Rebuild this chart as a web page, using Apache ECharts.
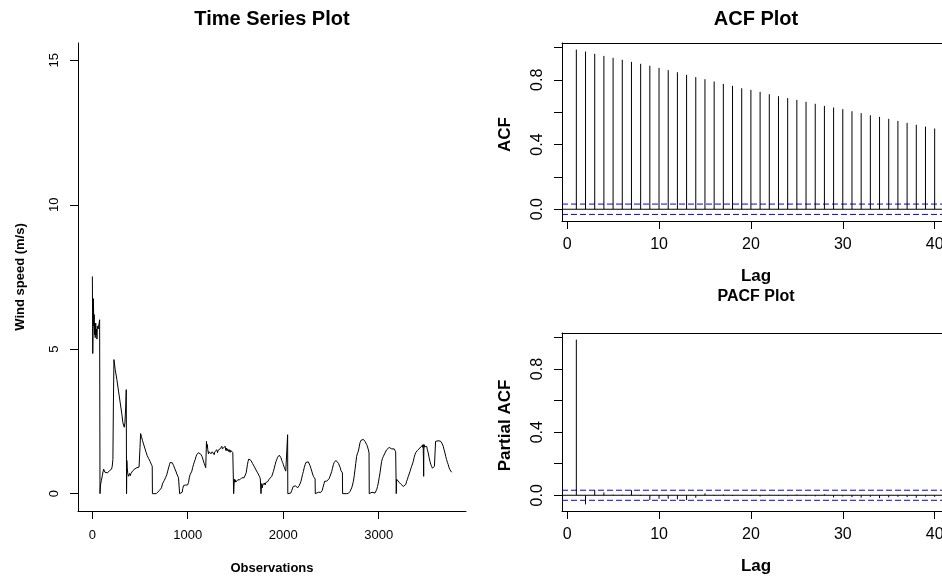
<!DOCTYPE html>
<html><head><meta charset="utf-8">
<script src="https://cdn.jsdelivr.net/npm/echarts@6/dist/echarts.min.js"></script>
<style>html,body{margin:0;padding:0;background:#fff}#c{width:942px;height:579px}</style>
</head><body><div id="c"></div>
<script>
// ---- Time series (observation index, wind speed m/s) ----
const obs = [1,5,8,12,16,20,24,28,31,36,40,45,49,53,58,62,66,72,77,80,81,
86,95,105,112,119,126,133,140,147,154,160,167,174,181,188,195,202,209,216,221,227,240,258,275,293,310,321,335,342,350,356,359,
360,362,366,372,378,384,391,398,405,412,419,426,433,440,447,454,461,468,475,482,490,495,500,506,515,525,537,550,565,575,590,605,618,628,630,
650,670,690,700,710,718,725,732,739,746,753,760,767,774,781,790,799,808,816,823,830,838,845,851,858,865,872,879,886,893,903,912,915,
930,942,948,956,963,970,977,984,991,998,1008,1016,1025,1035,1043,1051,1060,1069,1078,1086,1095,1103,1112,1120,1130,1141,1150,1158,1165,1172,1180,1188,1192,1196,
1200,1205,1210,1217,1224,1230,1236,1243,1250,1256,1262,1270,1277,1283,1290,1297,1305,1312,1318,1325,1332,1339,1345,1351,1357,1363,1370,1376,1383,1392,1398,1405,1412,1418,1425,1432,1438,1444,1450,1458,1465,1472,1479,1481,
1482,1485,1489,1493,1497,1503,1510,1517,1524,1531,1538,1545,1552,1559,1566,1573,1580,1590,1598,1606,1612,1618,1625,1632,1640,1647,1655,1662,1670,1678,1688,1698,1706,1715,1723,1732,1741,1751,1760,1765,1767,
1768,1772,1776,1780,1786,1792,1797,1803,1810,1816,1822,1830,1838,1845,1852,1858,1863,1870,1880,1888,1897,1906,1915,1923,1932,1941,1950,1959,1967,1975,1985,1994,2002,2010,2018,2027,2038,2044,2046,2048,
2065,2079,2088,2096,2105,2114,2122,2130,2142,2150,2159,2168,2177,2185,2194,2202,2211,2220,2229,2238,2246,2255,2263,2272,2281,2290,2299,2308,2316,2325,2334,2336,
2337,2345,2355,2368,2380,2392,2403,2410,2415,2421,2428,2434,2440,2447,2455,2463,2473,2481,2490,2499,2508,2516,2525,2534,2543,2552,2561,2570,2579,2588,2597,2605,2612,2620,2622,
2640,2660,2682,2692,2700,2708,2717,2726,2735,2744,2752,2760,2769,2778,2787,2796,2804,2813,2822,2830,2839,2848,2857,2865,2874,2883,2892,2899,2901,
2915,2930,2945,2961,2970,2979,2988,2996,3005,3014,3022,3031,3040,3049,3058,3066,3075,3083,3092,3101,3110,3118,3127,3136,3144,3153,3162,3171,3178,3182,3184,
3185,3188,3192,3198,3205,3212,3223,3232,3240,3249,3258,3267,3275,3284,3293,3301,3310,3319,3328,3336,3345,3354,3362,3371,3380,3388,3397,3406,3415,3424,3432,3441,3450,3458,3462,3466,3469,3471,3473,3476,3480,3486,3492,3502,3510,3519,3528,3537,3545,3554,3563,3572,3578,3584,3590,3596,3605,3614,3622,3630,3638,3647,3655,3659,3667,3676,3685,3694,3702,3711,3720,3729,3737,3746,3755,3764];
const speed = [7.52,4.85,5.6,6.75,5.8,6.2,5.5,5.9,5.4,5.9,5.5,5.7,5.35,5.8,5.85,5.7,5.8,5.9,6.02,6.0,0,
0.3,0.45,0.62,0.75,0.85,0.8,0.74,0.78,0.76,0.76,0.72,0.78,0.73,0.8,0.75,0.78,0.85,0.95,1.18,3.0,4.64,4.3,3.94,3.55,3.14,2.75,2.45,2.3,2.45,3.0,3.6,0,
0,1.15,0.9,0.7,0.6,0.62,0.7,0.62,0.7,0.75,0.68,0.8,0.82,0.78,0.86,0.88,0.85,0.9,0.92,0.95,0.92,0.95,1.6,2.08,1.98,1.85,1.72,1.58,1.42,1.32,1.22,1.12,1.02,0.95,0,
0,0,0.02,0.1,0.12,0.14,0.2,0.3,0.37,0.4,0.45,0.48,0.55,0.6,0.66,0.78,0.89,1.0,1.08,1.12,1.12,1.07,1.02,0.98,0.92,0.86,0.8,0.75,0.68,0.62,0.55,0.5,0,
0,0.05,0.18,0.28,0.3,0.26,0.3,0.28,0.24,0.3,0.38,0.55,0.66,0.72,0.78,0.9,1.0,1.1,1.18,1.28,1.35,1.4,1.42,1.41,1.38,1.35,1.28,1.2,1.15,1.05,0.98,0.9,1.3,1.81,
1.6,1.7,1.52,1.38,1.45,1.4,1.5,1.38,1.32,1.45,1.42,1.48,1.35,1.45,1.4,1.5,1.52,1.42,1.5,1.45,1.52,1.55,1.6,1.5,1.64,1.55,1.5,1.6,1.55,1.64,1.5,1.58,1.48,1.55,1.5,1.45,1.52,1.43,1.5,1.47,1.45,1.42,1.41,0,
0,0.3,0.5,0.4,0.48,0.4,0.45,0.43,0.48,0.45,0.5,0.48,0.47,0.52,0.55,0.58,0.6,0.55,0.52,0.6,0.72,0.85,1.0,1.12,1.2,1.24,1.2,1.15,1.1,1.05,1.0,0.93,0.88,0.82,0.77,0.72,0.67,0.6,0.52,0.48,0,
0,0.25,0.35,0.2,0.3,0.28,0.35,0.37,0.3,0.38,0.35,0.4,0.42,0.43,0.5,0.52,0.54,0.56,0.6,0.68,0.77,0.88,1.0,1.1,1.18,1.26,1.32,1.33,1.32,1.25,1.15,1.08,1.0,0.92,0.85,0.78,0.75,0.74,2.04,0,
0,0.02,0.1,0.16,0.25,0.31,0.28,0.27,0.25,0.2,0.2,0.28,0.33,0.42,0.54,0.66,0.77,0.9,1.0,1.08,1.14,1.13,1.1,1.04,0.97,0.88,0.78,0.68,0.6,0.55,0.51,0,
0,0.06,0.05,0.05,0.05,0.04,0.05,0.12,0.2,0.25,0.35,0.43,0.42,0.4,0.43,0.44,0.46,0.52,0.6,0.68,0.77,0.88,1.0,1.08,1.14,1.15,1.13,1.1,1.05,1.0,0.9,0.8,0.76,0.72,0,
0,0,0.01,0.05,0.08,0.13,0.2,0.3,0.43,0.62,0.83,1.05,1.29,1.4,1.47,1.62,1.76,1.84,1.89,1.9,1.88,1.85,1.81,1.76,1.7,1.62,1.52,1.41,0,
0.04,0.05,0.03,0.02,0.07,0.14,0.25,0.37,0.55,0.72,0.92,1.12,1.22,1.29,1.35,1.41,1.47,1.52,1.55,1.58,1.6,1.6,1.57,1.55,1.58,1.6,1.55,1.5,1.45,1.41,0,
0,0.5,0.48,0.45,0.48,0.4,0.37,0.33,0.31,0.28,0.25,0.24,0.23,0.32,0.43,0.5,0.6,0.68,0.77,0.86,0.95,1.03,1.12,1.25,1.35,1.42,1.47,1.5,1.52,1.55,1.58,1.6,1.64,1.68,1.6,1.7,1.2,0.6,1.5,1.7,1.62,1.66,1.6,1.64,1.52,1.41,1.25,1.12,1.02,0.95,0.88,0.84,0.86,0.95,1.4,1.81,1.84,1.85,1.83,1.8,1.84,1.82,1.81,1.8,1.72,1.64,1.52,1.41,1.29,1.18,1.08,1.0,0.9,0.83,0.78,0.74];

// ---- Correlograms ----
const lags = [1,2,3,4,5,6,7,8,9,10,11,12,13,14,15,16,17,18,19,20,21,22,23,24,25,26,27,28,29,30,31,32,33,34,35,36,37,38,39,40];
const acfValues = [0.987,0.975,0.961,0.948,0.936,0.924,0.911,0.899,0.887,0.874,0.860,0.847,0.831,0.817,0.804,0.790,0.775,0.763,0.748,0.738,
  0.726,0.711,0.699,0.687,0.676,0.664,0.652,0.639,0.629,0.619,0.606,0.594,0.581,0.571,0.559,0.546,0.534,0.522,0.511,0.499];
const pacfValues = [0.987,-0.058,0.032,0.018,0.004,0.003,0.032,-0.004,-0.030,-0.022,-0.022,-0.026,-0.030,-0.016,0.012,-0.003,0.005,-0.004,0.002,-0.005,
  -0.008,0.003,-0.004,-0.006,0.004,-0.005,-0.007,0.006,-0.014,-0.008,-0.012,-0.015,-0.010,-0.018,-0.014,-0.010,-0.012,-0.016,-0.008,-0.010];
const ciBound = 0.0319;

// ---- Tick values ----
const tsXTicks = [0,1000,2000,3000];
const tsYTicks = [0,5,10,15];
const lagTicks = [0,10,20,30,40];
const corrTicks = [0,0.2,0.4,0.6,0.8,1.0];
const corrLabels = [0,0.4,0.8];

const FONT = '"Liberation Sans", Arial, Helvetica, sans-serif';

function padRange(lo, hi){ const p = 0.04*(hi-lo); return [lo-p, hi+p]; }
const tsX = padRange(obs[0], obs[obs.length-1]);
const tsY = padRange(0, 15);
const lagFull = padRange(lags[0], lags[lags.length-1]);
// the correlogram panels run past the right edge of the picture: 387px full width, 380px visible
const lagX = [lagFull[0], lagFull[0] + (lagFull[1]-lagFull[0]) * 380/387];
const acfY = padRange(Math.min(...acfValues, -ciBound), Math.max(...acfValues, ciBound));
const pacfY = padRange(Math.min(...pacfValues, -ciBound), Math.max(...pacfValues, ciBound));

const tsData = obs.map((o,i)=>[o, speed[i]]);
const acfData = lags.map((l,i)=>[l, acfValues[i]]);
const pacfData = lags.map((l,i)=>[l, pacfValues[i]]);

function stem(params, api){
  const x = api.value(0), y = api.value(1);
  const p0 = api.coord([x,0]), p1 = api.coord([x,y]);
  return {type:'line', shape:{x1:p0[0],y1:p0[1],x2:p1[0],y2:p1[1]}, style:{stroke:'#000', lineWidth:1}};
}

function xAxisCfg(gi, range, ticks, fs, margin){
  return {type:'value', gridIndex:gi, min:range[0], max:range[1], position:'bottom',
    axisLine:{show:true, onZero:false, lineStyle:{color:'#000', width:1}},
    axisTick:{show:true, inside:false, length:8, customValues:ticks, lineStyle:{color:'#000', width:1}},
    axisLabel:{show:true, customValues:ticks, margin:margin, color:'#000', fontSize:fs, fontFamily:FONT, formatter:v=>String(v), hideOverlap:false, showMinLabel:true, showMaxLabel:true},
    splitLine:{show:false}};
}
function topAxisCfg(gi, range){
  return {type:'value', gridIndex:gi, min:range[0], max:range[1], position:'top',
    axisLine:{show:true, onZero:false, lineStyle:{color:'#000', width:1}},
    axisTick:{show:false}, axisLabel:{show:false}, splitLine:{show:false}};
}
function yAxisCfg(gi, range, ticks, labels, fs, margin, fmt){
  return {type:'value', gridIndex:gi, min:range[0], max:range[1],
    axisLine:{show:true, onZero:false, lineStyle:{color:'#000', width:1}},
    axisTick:{show:true, inside:false, length:8, customValues:ticks, lineStyle:{color:'#000', width:1}},
    axisLabel:{show:true, customValues:labels, rotate:90, margin:margin, color:'#000', fontSize:fs, fontFamily:FONT, formatter:fmt, hideOverlap:false, showMinLabel:true, showMaxLabel:true},
    splitLine:{show:false}};
}
function hline(xi, yi, v, color, type){
  return {type:'line', xAxisIndex:xi, yAxisIndex:yi, data:[[lagX[0], v],[lagX[1], v]], symbol:'none', silent:true,
    lineStyle:{color:color, width:1, type:type}, z:1};
}
function txt(text, x, y, size, rot){
  return {type:'text', x:x, y:y, rotation:rot||0, silent:true,
    style:{text:text, fill:'#000', fontSize:size, fontWeight:'bold', fontFamily:FONT,
      align:'center', verticalAlign:'middle', textAlign:'center', textVerticalAlign:'middle'}};
}

const chart = echarts.init(document.getElementById('c'), null, {renderer:'canvas'});
chart.setOption({
  animation:false,
  backgroundColor:'#fff',
  grid:[
    {left:78, top:43, width:388, height:468, show:false, containLabel:false, outerBoundsMode:'none'},
    {left:562, top:43, right:0, height:178, show:false, containLabel:false, outerBoundsMode:'none'},
    {left:562, top:333, right:0, height:178, show:false, containLabel:false, outerBoundsMode:'none'}
  ],
  xAxis:[
    xAxisCfg(0, tsX, tsXTicks, 13, 18),
    xAxisCfg(1, lagX, lagTicks, 16, 16),
    xAxisCfg(2, lagX, lagTicks, 16, 16),
    topAxisCfg(1, lagX),
    topAxisCfg(2, lagX)
  ],
  yAxis:[
    yAxisCfg(0, tsY, tsYTicks, tsYTicks, 13, 17, v=>String(v)),
    yAxisCfg(1, acfY, corrTicks, corrLabels, 16, 16, v=>v.toFixed(1)),
    yAxisCfg(2, pacfY, corrTicks, corrLabels, 16, 16, v=>v.toFixed(1))
  ],
  series:[
    {type:'line', xAxisIndex:0, yAxisIndex:0, data:tsData, symbol:'none', lineStyle:{color:'#000', width:1}, silent:true},
    hline(1,1,0,'#000','solid'),
    hline(1,1,ciBound,'#0000ff',[6,3]),
    hline(1,1,-ciBound,'#0000ff',[6,3]),
    {type:'custom', xAxisIndex:1, yAxisIndex:1, data:acfData, renderItem:stem, encode:{x:0,y:1}, silent:true, z:2},
    hline(2,2,0,'#000','solid'),
    hline(2,2,ciBound,'#0000ff',[6,3]),
    hline(2,2,-ciBound,'#0000ff',[6,3]),
    {type:'custom', xAxisIndex:2, yAxisIndex:2, data:pacfData, renderItem:stem, encode:{x:0,y:1}, silent:true, z:2}
  ],
  graphic:[
    txt('Time Series Plot', 272, 19.5, 20),
    txt('ACF Plot', 756, 19.5, 20),
    txt('PACF Plot', 756, 297, 16),
    txt('Observations', 272, 568, 13),
    txt('Wind speed (m/s)', 20, 277, 13, Math.PI/2),
    txt('Lag', 756, 276.5, 17),
    txt('Lag', 756, 566.5, 17),
    txt('ACF', 505, 134.5, 17, Math.PI/2),
    txt('Partial ACF', 505, 425.5, 17, Math.PI/2)
  ]
});
</script></body></html>
